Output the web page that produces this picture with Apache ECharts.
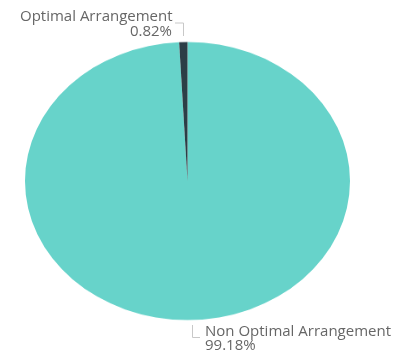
<!DOCTYPE html>
<html><head><meta charset="utf-8">
<script src="https://cdn.jsdelivr.net/npm/echarts@6/dist/echarts.min.js"></script>
<style>
html,body{margin:0;padding:0;background:#fff;width:400px;height:362px;overflow:hidden;}
#pie{position:absolute;left:0;top:-19px;width:400px;height:400px;transform-origin:50% 200px;transform:scaleY(0.8554);}
#lab{position:absolute;left:0;top:0;width:400px;height:362px;}
</style></head>
<body>
<div id="pie"></div>
<div id="lab"></div>
<script>
var categories = ['Non Optimal Arrangement', 'Optimal Arrangement'];
var values = [99.18, 0.82];
var colors = ['#67D3CA', '#2C3E46'];

var pie = echarts.init(document.getElementById('pie'), null, {renderer:'canvas'});
pie.setOption({
  animation:false,
  series:[{
    type:'pie',
    center:[187.5,200],
    radius:[0,162.5],
    startAngle:90,
    clockwise:true,
    label:{show:false},
    labelLine:{show:false},
    itemStyle:{borderWidth:0},
    emphasis:{disabled:true},
    data: categories.map(function(c,i){return {name:c,value:values[i],itemStyle:{color:colors[i]}};})
  }]
});

var lab = echarts.init(document.getElementById('lab'), null, {renderer:'canvas'});
var tStyle = {fill:'#666666', font:'15px "Open Sans", sans-serif'};
function pct(v){return v.toFixed(2)+'%';}
lab.setOption({
  animation:false,
  graphic:[
    {type:'text', left:20, top:9, style:Object.assign({text:categories[1]}, tStyle)},
    {type:'text', right:228, top:24.5, style:Object.assign({text:pct(values[1])}, tStyle)},
    {type:'polyline', shape:{points:[[175,23],[183.5,23],[183.5,36]]}, style:{stroke:'#c8c8c8', lineWidth:1, fill:null}},
    {type:'text', left:205, top:324, style:Object.assign({text:categories[0]}, tStyle)},
    {type:'text', left:205, top:338.5, style:Object.assign({text:pct(values[0])}, tStyle)},
    {type:'polyline', shape:{points:[[192.5,325],[192.5,337.5],[200,337.5]]}, style:{stroke:'#c8c8c8', lineWidth:1, fill:null}}
  ]
});
</script>
</body></html>
